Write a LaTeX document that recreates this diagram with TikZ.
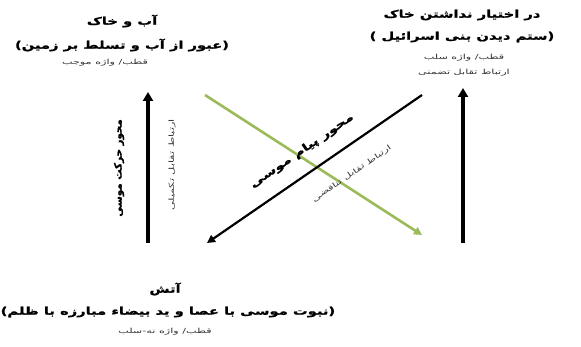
\documentclass[tikz,border=0pt]{standalone}
\usepackage{fontspec}
\newfontfamily\farsi[Script=Arabic,FakeStretch=1.4,BoldFeatures={FakeBold=1.2}]{DejaVu Sans}
\newfontfamily\farsiup[Script=Arabic,BoldFeatures={FakeBold=1.2}]{DejaVu Sans}
\newfontfamily\farsithin[Script=Arabic,FakeStretch=1.6]{DejaVu Sans}
\TeXXeTstate=1
\usetikzlibrary{arrows.meta}
\definecolor{leaf}{RGB}{155,187,89}
\newcommand{\fa}[1]{\beginR #1\endR}
\tikzset{
  term/.style={font=\farsi\bfseries\fontsize{10.5}{12}\selectfont,inner sep=0pt},
  axlbl/.style={font=\farsiup\bfseries\fontsize{10.3}{12}\selectfont,inner sep=0pt},
  pole/.style={font=\farsithin\fontsize{7}{8}\selectfont,text=black!80,inner sep=0pt},
  axis/.style={line width=4pt,-{Triangle[length=9pt,width=10pt]}},
  msg/.style={line width=2.2pt,-{Triangle[length=8pt,width=8pt]}},
  neg/.style={leaf,line width=2.6pt,-{Triangle[length=8pt,width=8pt]}}
}
\begin{document}
\begin{tikzpicture}[x=1pt,y=1pt]
\useasboundingbox (0,0) rectangle (581,347);
% corner terms
\node[term] (ab) at (122,326) {\fa{آب و خاک}};
\node[term] (abx) at (122,302) {\fa{(عبور از آب و تسلط بر زمین)}};
\node[pole] (abp) at (105,284) {\fa{قطب/ واژه موجب}};
\node[term] (khak) at (462,332) {\fa{در اختیار نداشتن خاک}};
\node[term] (khakx) at (462,310) {\fa{(ستم دیدن بنی اسرائیل )}};
\node[pole] (khakp) at (464,289) {\fa{قطب/ واژه سلب}};
\node[pole] (khakr) at (464,274) {\fa{ارتباط تقابل تضمنی}};
\node[term] (atash) at (165,58) {\fa{آتش}};
\node[term] (atashx) at (168,35) {\fa{(نبوت موسی با عصا و ید بیضاء مبارزه با ظلم)}};
\node[pole] (atashp) at (165,15) {\fa{قطب/ واژه نه-سلب}};
% axes
\coordinate (lb) at (148,104);
\coordinate (lt) at (148,255);
\coordinate (rb) at (463,104);
\coordinate (rt) at (463,259);
\coordinate (mt) at (422,252);
\coordinate (mb) at (207,104);
\coordinate (gt) at (205,252);
\coordinate (gb) at (422,112);
\draw[axis] (lb) -- (lt);
\draw[axis] (rb) -- (rt);
\draw[neg] (gt) -- (gb);
\draw[msg] (mt) -- (mb);
\node[axlbl,rotate=90] (haraka) at (119,179) {\fa{محور حرکت موسی}};
\node[pole,rotate=90] (takmili) at (172,182) {\fa{ارتباط تقابل تکمیلی}};
\node[term,rotate=34.5] (payam) at (302,196) {\fa{محور پیام موسی}};
\node[pole,rotate=34.5] (tanaqoz) at (352,173) {\fa{ارتباط تقابل تناقضی}};
\end{tikzpicture}
\end{document}
